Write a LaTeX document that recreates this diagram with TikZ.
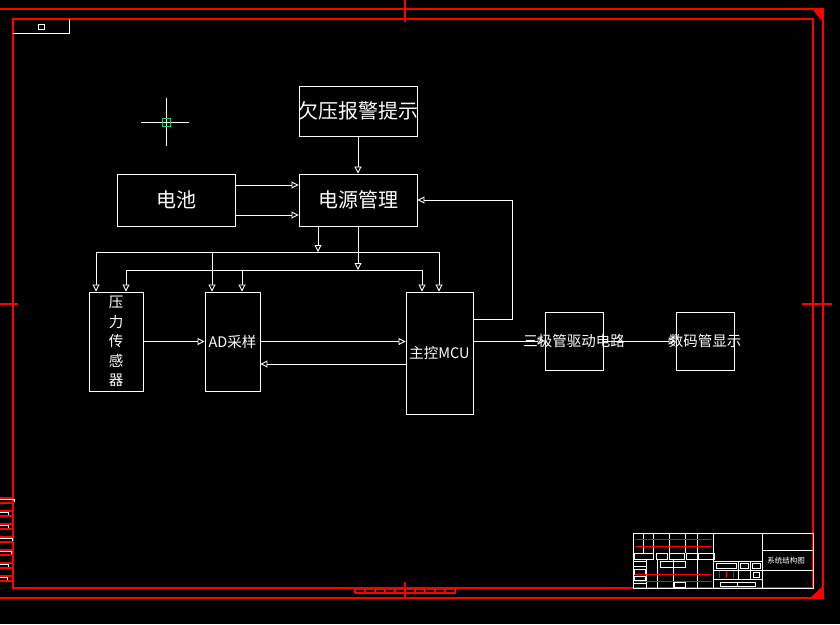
\documentclass[tikz,border=0pt]{standalone}
\usepackage{fontspec}
\setmainfont{Noto Sans CJK SC}
\usetikzlibrary{arrows.meta}

\definecolor{cadred}{RGB}{255,0,0}
\definecolor{cursor}{RGB}{40,200,110}

\tikzset{
  blk/.style={draw=white, line width=0.9pt, inner sep=0pt, text=white},
  arr/.style={draw=white, line width=0.9pt, -{Triangle[open,length=7pt,width=7pt]}},
  red line/.style={draw=cadred, line width=2pt},
  big/.style={font=\fontsize{20}{20}\selectfont},
  small/.style={font=\fontsize{14.5}{19.5}\selectfont},
}

\begin{document}
\begin{tikzpicture}[x=1pt,y=-1pt]

\fill[black] (0,0) rectangle (840,624);
\useasboundingbox (0,0) rectangle (840,624);

% Cadre
\draw[red line] (-2,9) rectangle (823,598);
\draw[red line] (13,19) rectangle (813,588);
\fill[cadred] (812,9) -- (823,9) -- (823,22) -- cycle;
\fill[cadred] (823,586) -- (823,598) -- (810,598) -- cycle;
\draw[red line] (405,0) -- (405,22);
\draw[red line] (0,304) -- (18,304);
\draw[red line] (802,304) -- (832,304);
\draw[red line] (405,582) -- (405,598);
\draw[cadred, line width=1.2pt] (355,589) rectangle (455,593);
\foreach \x in {365,375,...,445}
{
\draw[cadred, line width=1.2pt] (\x,589) -- (\x,593);
}

\foreach \y/\w in {
498/14,511/8,524/8,537/12,
550/11,563/8,576/7
}
{
\draw[cadred, line width=1.2pt] (0,\y) -- (13,\y);
\draw[cadred, line width=1.2pt] (0,\y+5) -- (13,\y+5);
\draw[white] (0,\y+1.5) -- (\w,\y+1.5) -- (\w,\y+4);
}

\draw[white, line width=0.9pt] (13,33) -- (69,33) -- (69,19);
\draw[white, line width=0.9pt] (38,24) rectangle (44,29);

% Curseur
\draw[white, line width=0.9pt] (141,122) -- (189,122);
\draw[white, line width=0.9pt] (166,98) -- (166,146);
\draw[cursor, line width=0.9pt] (162,118) rectangle (170,126);

% Blocs
\node[blk, big, minimum width=118pt, minimum height=50pt] (warn) at (358,111)
{\makebox[0pt]{欠压报警提示}};
\node[blk, big, minimum width=118pt, minimum height=52pt] (power) at (358,200)
{电源管理};
\node[blk, big, minimum width=118pt, minimum height=52pt] (batt) at (176,200)
{电池};

\node[blk, small, align=center, minimum width=54pt, minimum height=99pt] (sensor) at (116,341.5)
{压\\力\\传\\感\\器};
\node[blk, small, minimum width=55pt, minimum height=99pt] (adc) at (232.5,341.5)
{\makebox[0pt]{AD采样}};
\node[blk, small, minimum width=67pt, minimum height=122pt] (mcu) at (439.5,353)
{\makebox[0pt]{主控MCU}};
\node[blk, small, minimum width=58pt, minimum height=58pt] (drv) at (574,341)
{};
\node[blk, small, minimum width=58pt, minimum height=58pt] (disp) at (705,341)
{};

% Liaisons
\draw[arr] (warn) -- (power);
\draw[arr] ([yshift=15pt]batt.east) -- ([yshift=15pt]power.west);
\draw[arr] ([yshift=-15pt]batt.east) -- ([yshift=-15pt]power.west);

\coordinate (busA) at (96,252);
\coordinate (busB) at (126,270);
\draw[white, line width=0.9pt] (busA) -- (439,252);
\draw[white, line width=0.9pt] (busB) -- (422,270);
\draw[arr] ([xshift=-40pt]power.south) -- ([xshift=-40pt]power.south |- busA);
\draw[arr] (power.south) -- (power.south |- busB);

\foreach \x/\n in {96/sensor,212/adc,439/mcu}
{
\draw[arr] (\x,252) -- (\n.north -| \x,0);
}
\foreach \x/\n in {126/sensor,242/adc,422/mcu}
{
\draw[arr] (\x,270) -- (\n.north -| \x,0);
}

\draw[arr] (sensor.east) -- (adc.west);
\draw[arr] (adc.east) -- (adc.east -| mcu.west);
\draw[arr] (mcu.west |- 0,364) -- (adc.east |- 0,364);
\draw[arr] (mcu.east |- 0,319) -- (512,319) |- (power.east);
\draw[arr] (drv.west -| mcu.east) -- (drv.west);
\draw[arr] (drv.east) -- (disp.west);

\node[small, text=white] (drvtxt) at (drv) {三极管驱动电路};
\node[small, text=white] (disptxt) at (disp) {数码管显示};

% Cartouche
\begin{scope}[white, line width=0.8pt]
\draw (633,533) rectangle (813,588);
\draw (713,533) -- (713,588);
\draw (762,533) -- (762,588);
\draw (762,550) -- (813,550);
\draw (762,570) -- (813,570);

\foreach \x in {643,653,669,685,697}
{
\draw (\x,533) -- (\x,553);
}
\foreach \a/\b in {634/653,656/667,669/684,686/697,698/714}
{
\draw (\a,553) rectangle (\b,559);
}
\foreach \x in {646,657,673,697}
{
\draw (\x,559) -- (\x,588);
}
\draw (633,561) -- (646,561);
\draw (633,566) -- (646,566);
\draw (634,569) rectangle (645,574);
\draw (634,576) rectangle (645,580);
\draw (633,583) -- (646,583);
\draw (660,561) rectangle (685,567);
\draw (674,582) rectangle (685,587);

\draw (713,561) -- (762,561);
\draw (713,570) -- (762,570);
\draw (713,579) -- (762,579);
\draw (738,561) -- (738,579);
\draw (750,561) -- (750,579);
\draw (716,563) rectangle (736,568);
\draw (740,563) rectangle (748,568);
\draw (752,563) rectangle (760,568);
\draw (753,572) rectangle (759,577);
\draw (720,582) rectangle (737,586);
\draw (737,582) rectangle (755,586);
\end{scope}

\foreach \y in {539,546,574,581}
{
\draw[cadred, line width=0.9pt] (635,\y) -- (711,\y);
}
\foreach \x in {719,726,733}
{
\draw[cadred, line width=0.9pt] (\x,571) -- (\x,578);
}

\node[text=white, font=\fontsize{7.5}{7.5}\selectfont] (title) at (786,561) {系统结构图};

\end{tikzpicture}
\end{document}
